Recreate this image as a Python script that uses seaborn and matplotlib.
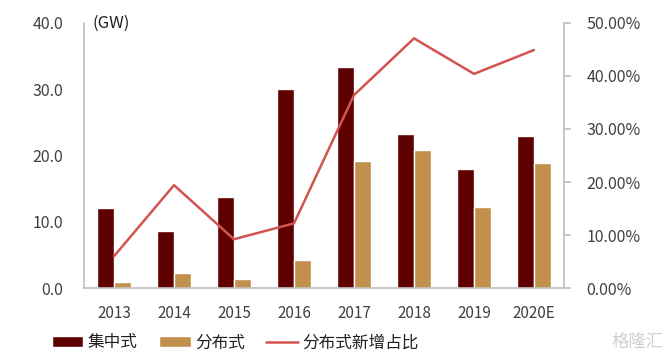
import pandas as pd
import matplotlib.pyplot as plt
import seaborn as sns
from matplotlib.patches import Patch
from matplotlib.lines import Line2D
from matplotlib.ticker import FixedLocator

years = ["2013", "2014", "2015", "2016", "2017", "2018", "2019", "2020E"]
centralized = [12.1, 8.6, 13.8, 30.1, 33.3, 23.2, 17.9, 23.0]
distributed = [0.9, 2.2, 1.4, 4.2, 19.2, 20.9, 12.2, 18.8]
dist_share = [6.0, 19.4, 9.2, 12.2, 36.4, 47.1, 40.4, 44.9]

c_dark = "#5E0000"
c_tan = "#C1904C"
c_line = "#D2534F"
c_axis = "#BFBFBF"
c_text = "#404040"

sns.set_style("white")
plt.rcParams["font.family"] = ["Noto Sans CJK SC", "DejaVu Sans"]

df = pd.DataFrame({
    "year": years * 2,
    "value": centralized + distributed,
    "type": ["集中式"] * len(years) + ["分布式"] * len(years),
})

fig = plt.figure(figsize=(6.7, 3.58), dpi=100)
ax = fig.add_axes([0.1254, 0.1955, 0.7164, 0.7403])

sns.barplot(data=df, x="year", y="value", hue="type", palette=[c_dark, c_tan],
            width=0.57, saturation=1, ax=ax, legend=False)
ax.set_xlim(-0.5, len(years) - 0.5)
ax.set_ylim(0, 40)
ax.set_yticks([0, 10, 20, 30, 40])
ax.set_yticklabels([f"{v:.1f}" for v in [0, 10, 20, 30, 40]])
ax.set_xlabel("")
ax.set_ylabel("")

ax2 = ax.twinx()
sns.lineplot(x=list(range(len(years))), y=dist_share, color=c_line, linewidth=1.8, ax=ax2)
ax2.set_ylim(0, 50)
ax2.set_yticks([0, 10, 20, 30, 40, 50])
ax2.set_yticklabels([f"{v:.2f}%" for v in [0, 10, 20, 30, 40, 50]])

for a in (ax, ax2):
    for s in a.spines.values():
        s.set_visible(False)
ax.spines["left"].set_visible(True)
ax.spines["bottom"].set_visible(True)
ax2.spines["right"].set_visible(True)
for s in (ax.spines["left"], ax.spines["bottom"], ax2.spines["right"]):
    s.set_color(c_axis)
    s.set_linewidth(1.2)

ax.xaxis.set_minor_locator(FixedLocator([i - 0.5 for i in range(len(years) + 1)]))
ax.tick_params(axis="x", which="major", length=0, pad=12, labelsize=11, labelcolor=c_text)
ax.tick_params(axis="x", which="minor", length=5, width=1.2, color=c_axis, direction="out")
ax.tick_params(axis="y", length=0, pad=15, labelsize=11.5, labelcolor=c_text)
ax2.tick_params(axis="y", length=5, width=1.2, color=c_axis, pad=11, labelsize=11.5, labelcolor=c_text)

ax.text(0.017, 1.0, "(GW)", transform=ax.transAxes, ha="left", va="center",
        fontsize=12, color="#202020")

handles = [
    Patch(facecolor=c_dark, label="集中式"),
    Patch(facecolor=c_tan, label="分布式"),
    Line2D([0], [0], color=c_line, linewidth=1.8, label="分布式新增占比"),
]
fig.legend(handles=handles, loc="center left", bbox_to_anchor=(0.077, 0.042), ncol=3,
           frameon=False, fontsize=12, handlelength=1.9, handleheight=0.65,
           columnspacing=1.3, handletextpad=0.25, borderpad=0, borderaxespad=0,
           labelcolor="#202020")

fig.text(0.99, 0.045, "格隆汇", ha="right", va="center", fontsize=12.5, color="#D0D0D0")

fig.savefig("out.png", dpi=100)
